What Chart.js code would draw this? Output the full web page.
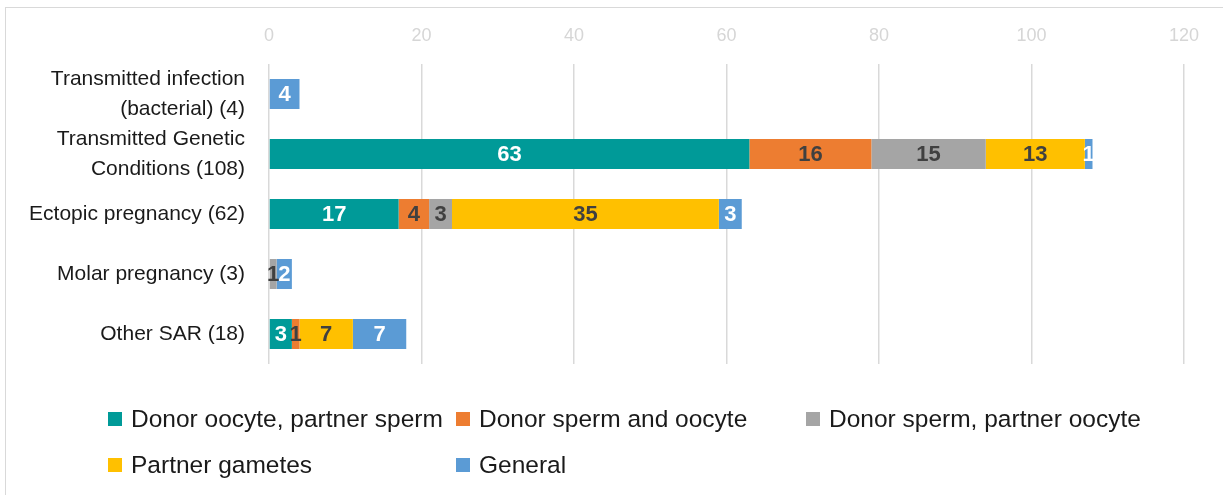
<!DOCTYPE html>
<html lang="en">
<head>
<meta charset="UTF-8">
<title>SAR by gamete source</title>
<script src="https://cdn.jsdelivr.net/npm/chart.js"></script>
<style>
    body { margin: 0; background: #fff; }
    .frame { position: absolute; left: 5px; top: 7px; width: 1240px; height: 520px; border: 1px solid #d9d9d9; }
    #sarChart { position: absolute; left: 0; top: 0; }
</style>
</head>
<body>
<div class="frame"></div>
<canvas id="sarChart" width="1223" height="495"></canvas>
<script>
    const categories = [
        ['Transmitted infection', '(bacterial) (4)'],
        ['Transmitted Genetic', 'Conditions (108)'],
        'Ectopic pregnancy (62)',
        'Molar pregnancy (3)',
        'Other SAR (18)'
    ];
    const donorOocytePartnerSperm = [0, 63, 17, 0, 3];
    const donorSpermAndOocyte = [0, 16, 4, 0, 1];
    const donorSpermPartnerOocyte = [0, 15, 3, 1, 0];
    const partnerGametes = [0, 13, 35, 0, 7];
    const general = [4, 1, 3, 2, 7];
    const xTicks = [0, 20, 40, 60, 80, 100, 120];

    const FONT = '"Liberation Sans", Arial, sans-serif';

    // value labels in the middle of every segment
    const barLabels = {
        id: 'barLabels',
        afterDatasetsDraw(chart) {
            const ctx = chart.ctx;
            ctx.save();
            ctx.font = 'bold 22px ' + FONT;
            ctx.textAlign = 'center';
            ctx.textBaseline = 'middle';
            chart.data.datasets.forEach((ds, i) => {
                const meta = chart.getDatasetMeta(i);
                meta.data.forEach((bar, j) => {
                    const v = ds.data[j];
                    if (!v) return;
                    const p = bar.getProps(['x', 'y', 'base'], true);
                    ctx.fillStyle = ds.labelColor;
                    ctx.fillText(String(v), (p.x + p.base) / 2, p.y + 1);
                });
            });
            ctx.restore();
        }
    };

    // legend laid out in columns like the original
    const gridLegend = {
        id: 'gridLegend',
        afterDraw(chart) {
            const ctx = chart.ctx;
            const cols = [108, 456, 806];
            const rows = [419, 465];
            ctx.save();
            ctx.font = '24.5px ' + FONT;
            ctx.textBaseline = 'middle';
            chart.data.datasets.forEach((ds, i) => {
                const x = cols[i % 3];
                const y = rows[Math.floor(i / 3)];
                ctx.fillStyle = ds.backgroundColor;
                ctx.fillRect(x, y - 7, 14, 14);
                ctx.fillStyle = '#1a1a1a';
                ctx.fillText(ds.label, x + 23, y + 1);
            });
            ctx.restore();
        }
    };

    new Chart(document.getElementById('sarChart'), {
        type: 'bar',
        data: {
            labels: categories,
            datasets: [
                { label: 'Donor oocyte, partner sperm', data: donorOocytePartnerSperm, backgroundColor: '#009a98', labelColor: '#ffffff' },
                { label: 'Donor sperm and oocyte', data: donorSpermAndOocyte, backgroundColor: '#ed7d31', labelColor: '#404040' },
                { label: 'Donor sperm, partner oocyte', data: donorSpermPartnerOocyte, backgroundColor: '#a5a5a5', labelColor: '#404040' },
                { label: 'Partner gametes', data: partnerGametes, backgroundColor: '#ffc000', labelColor: '#404040' },
                { label: 'General', data: general, backgroundColor: '#5b9bd5', labelColor: '#ffffff' }
            ]
        },
        options: {
            indexAxis: 'y',
            responsive: false,
            animation: false,
            layout: { padding: { top: 0, right: 39, bottom: 131, left: 0 } },
            datasets: { bar: { barPercentage: 0.5, categoryPercentage: 1.0, borderWidth: 0 } },
            plugins: {
                legend: { display: false },
                tooltip: { enabled: false }
            },
            scales: {
                x: {
                    position: 'top',
                    stacked: true,
                    min: 0,
                    max: 120,
                    afterBuildTicks: scale => { scale.ticks = xTicks.map(v => ({ value: v })); },
                    afterFit: scale => { scale.height = 64; },
                    grid: { color: '#d9d9d9', lineWidth: 1.5, drawTicks: false },
                    border: { display: false },
                    ticks: { color: '#d6d6d6', font: { family: FONT, size: 18 }, padding: 17 }
                },
                y: {
                    stacked: true,
                    afterFit: scale => { scale.width = 269; },
                    grid: { display: false },
                    border: { display: false },
                    ticks: { autoSkip: false, color: '#1a1a1a', font: { family: FONT, size: 21, lineHeight: 1.43 }, padding: 16 }
                }
            }
        },
        plugins: [barLabels, gridLegend]
    });
</script>
</body>
</html>
